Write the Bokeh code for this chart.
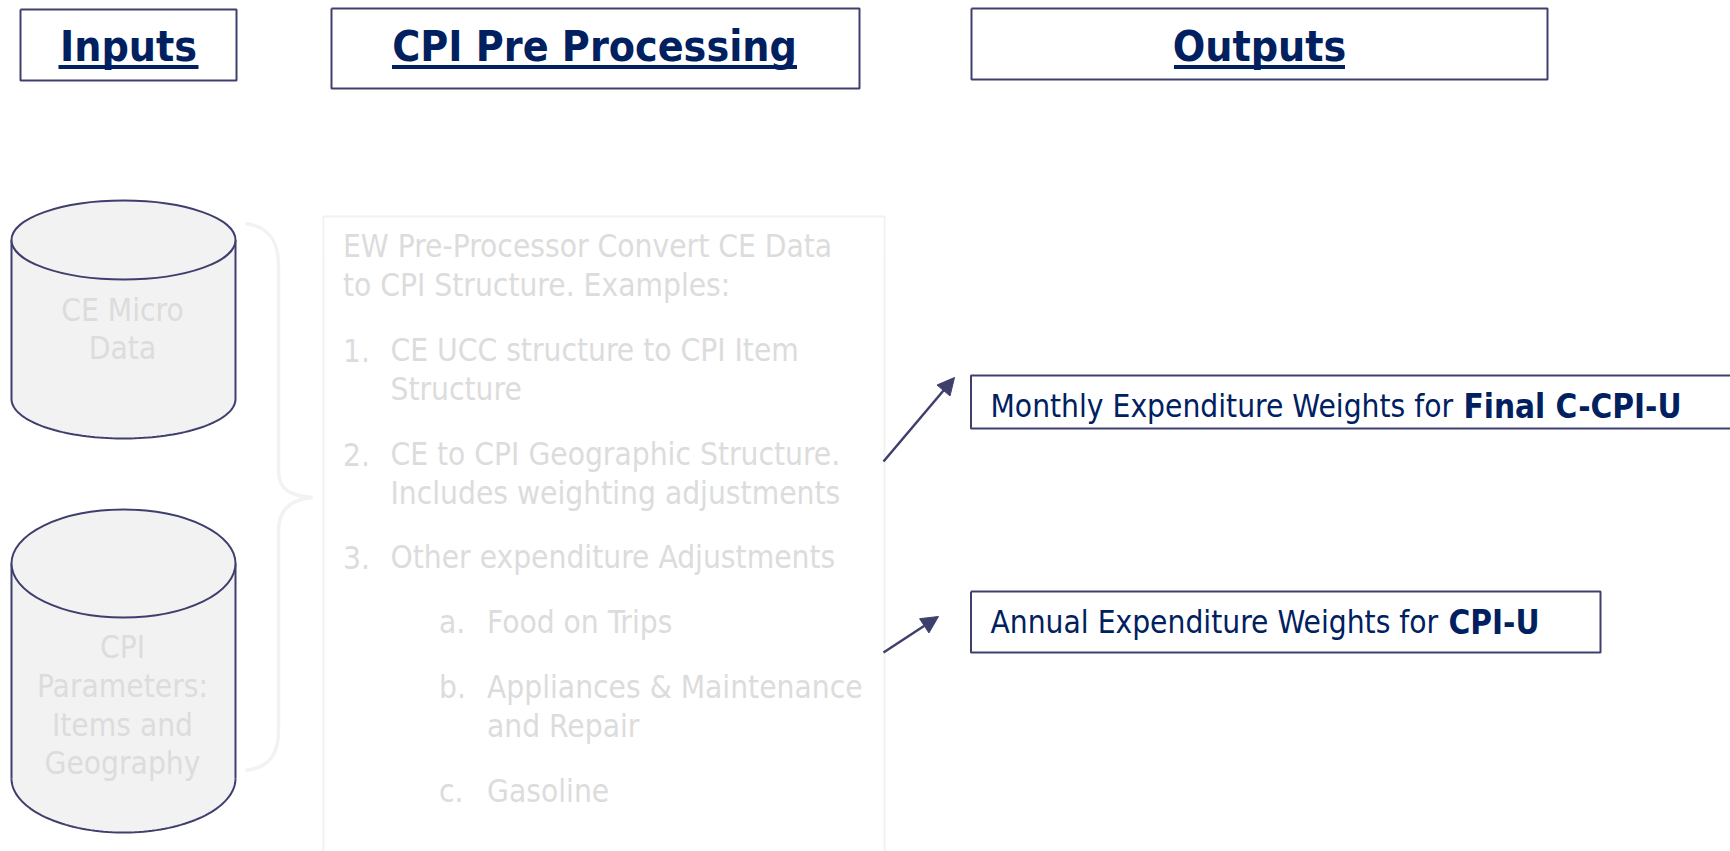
import numpy as np
from bokeh.plotting import figure
from bokeh.models import Arrow, NormalHead
from bokeh.core.properties import value
from bokeh.embed import file_html
from bokeh.resources import INLINE

FONT = "DejaVu Sans Condensed"
NAVY = "#002060"
EDGE = "#3f3f6e"
FADE_TEXT = "#dcdcdc"
FADE_LINE = "#f2f2f2"
FILL = "#f2f2f2"
HEAD_PX, BODY_PX, BOLD_PX = 42.5, 31.4, 33

# Texts
header_labels = ["Inputs", "CPI Pre Processing", "Outputs"]
header_x = [128, 594, 1259]
cyl_labels = ["CE Micro", "Data", "CPI", "Parameters:", "Items and", "Geography"]
cyl_label_y = [320, 358, 657, 696, 735, 773]
panel_x = [342.5, 342.5, 342.5, 390, 390, 342.5, 390, 390, 342.5, 390,
           438.5, 486.5, 438.5, 486.5, 486.5, 438.5, 486.5]
panel_y = [256, 295, 360, 360, 399, 464, 464, 503, 567, 567,
           632, 632, 697, 697, 736, 801, 801]
panel_lines = ["EW Pre-Processor Convert CE Data", "to CPI Structure. Examples:",
               "1.", "CE UCC structure to CPI Item", "Structure",
               "2.", "CE to CPI Geographic Structure.", "Includes weighting adjustments",
               "3.", "Other expenditure Adjustments",
               "a.", "Food on Trips",
               "b.", "Appliances & Maintenance", "and Repair",
               "c.", "Gasoline"]
output_plain = ["Monthly Expenditure Weights for ", "Annual Expenditure Weights for "]
output_bold = ["Final C-CPI-U", "CPI-U"]
output_bold_x = [1463, 1448]
output_y = [416, 632]

p = figure(width=1730, height=851, x_range=(0, 1730), y_range=(851, 0),
           output_backend="svg", toolbar_location=None, min_border=0,
           outline_line_color=None, background_fill_color="white")
p.xaxis.visible = False
p.yaxis.visible = False
p.grid.visible = False


def txt(x, y, s, px, color, bold=False, align="left", nudge=0.0):
    p.text(x, y, text=s, text_font=value(FONT), text_font_size=f"{px}px",
           text_font_style="bold" if bold else "normal", text_color=color,
           text_align=align, text_baseline="alphabetic", y_offset=-0.4 * px + 2.5 + nudge)


def box(x0, x1, y0, y1, color=EDGE, w=2, open_right=False):
    if open_right:
        p.line([x1, x0, x0, x1], [y0, y0, y1, y1], line_color=color, line_width=w)
    else:
        p.line([x0, x1, x1, x0, x0], [y0, y0, y1, y1, y0], line_color=color, line_width=w)


# header boxes
box(20, 236, 9, 80)
box(331, 859, 8, 88)
box(971, 1547, 8, 79)

# header text and underlines
for s, cx, half in zip(header_labels, header_x, [70, 202.5, 85.5]):
    txt([cx], [60], [s], HEAD_PX, NAVY, bold=True, align="center")
    p.line([cx - half, cx + half], [66.5, 66.5], line_color=NAVY, line_width=4)

# output boxes
box(970.5, 1730, 375, 428, open_right=True)
box(970.5, 1600, 591, 652)
for plain, bold, bx, y in zip(output_plain, output_bold, output_bold_x, output_y):
    txt([990], [y], [plain], BODY_PX, NAVY)
    txt([bx], [y], [bold], BOLD_PX, NAVY, bold=True, nudge=1.0)


# cylinders
def cylinder(x0, x1, top, ell_h, bottom):
    cx, rx, ry = (x0 + x1) / 2, (x1 - x0) / 2, ell_h / 2
    t = np.linspace(0, np.pi, 80)
    bx = cx + rx * np.cos(t)
    by = bottom - ry + ry * np.sin(t)
    xs = list(bx) + [x0, x1]
    ys = list(by) + [top + ry, top + ry]
    p.patch(xs, ys, fill_color=FILL, line_color=None)
    p.line(list(bx), list(by), line_color=EDGE, line_width=2)
    p.line([x0, x0], [top + ry, bottom - ry], line_color=EDGE, line_width=2)
    p.line([x1, x1], [top + ry, bottom - ry], line_color=EDGE, line_width=2)
    p.ellipse([cx], [top + ry], width=2 * rx, height=ell_h, fill_color=FILL, line_color=EDGE, line_width=2)


cylinder(11, 235, 200, 79, 438)
cylinder(11, 235, 509, 108, 832)
txt([122] * len(cyl_labels), cyl_label_y, cyl_labels, BODY_PX, FADE_TEXT, align="center")

# panel (runs off bottom)
p.line([323, 323, 884, 884], [851, 216, 216, 851], line_color=FADE_LINE, line_width=2)
txt(panel_x, panel_y, panel_lines, BODY_PX, FADE_TEXT)

# brace
p.bezier(x0=[245, 278, 312, 278], y0=[223, 470, 497, 730],
         x1=[278, 312, 278, 245], y1=[265, 497, 530, 770],
         cx0=[268, 278, 290, 278], cy0=[226, 490, 499, 755],
         cx1=[278, 290, 278, 268], cy1=[240, 495, 510, 767],
         line_color=FADE_LINE, line_width=3.5)
p.segment([278, 278], [265, 530], [278, 278], [470, 730], line_color=FADE_LINE, line_width=3.5)

# arrows
for xs, ys, xe, ye in [(883, 461, 954, 377), (883, 652, 938, 616)]:
    p.add_layout(Arrow(end=NormalHead(size=17, fill_color=EDGE, line_color=EDGE),
                       x_start=xs, y_start=ys, x_end=xe, y_end=ye,
                       line_color=EDGE, line_width=2.5))

open("out.html", "w").write(file_html(p, INLINE))
